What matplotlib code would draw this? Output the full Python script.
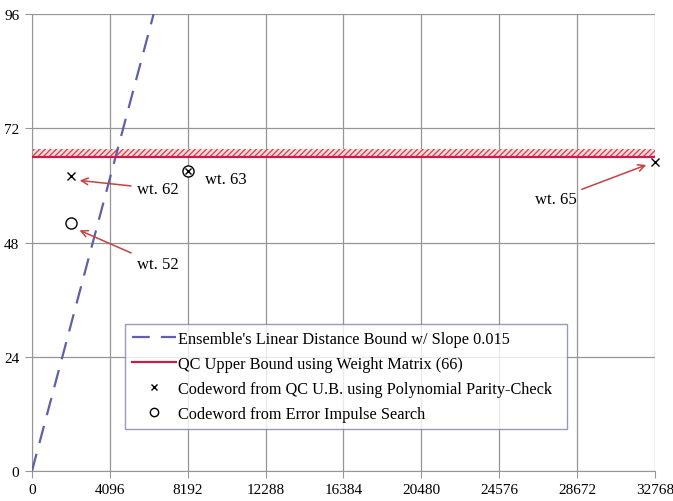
import matplotlib as mpl
mpl.use('Agg')
import matplotlib.pyplot as plt

plt.rcParams['font.family'] = ['Liberation Serif', 'DejaVu Serif']

# data
x_ticks = [0, 4096, 8192, 12288, 16384, 20480, 24576, 28672, 32768]
y_ticks = [0, 24, 48, 72, 96]
slope = 0.015
bound_x = [0, 6400]
qc_bound = 66
qc_band_top = 67.7
xcw_x = [2048, 32768]        # codewords from polynomial parity-check
xcw_y = [62, 65]
ocw_x = [2048]               # codeword from error impulse search
ocw_y = [52]
both_x = [8192]
both_y = [63]

fig = plt.figure(figsize=(6.73, 5.02), dpi=100)
ax = fig.add_axes([0.0475, 0.0598, 0.9255, 0.9102])

ax.set_xlim(0, 32768)
ax.set_ylim(0, 96)
ax.set_xticks(x_ticks)
ax.set_yticks(y_ticks)
ax.grid(True, color='#969696', lw=0.9)
ax.set_axisbelow(True)
for s in ax.spines.values():
    s.set_color('#969696')
ax.spines['top'].set_visible(False)
ax.spines['right'].set_visible(False)
ax.tick_params(direction='out', length=5, color='#969696', labelsize=11, pad=4)

ax.fill_between([0, 32768], qc_bound, qc_band_top, facecolor='#fde0e4',
                edgecolor='#e8404c', hatch='//////', linewidth=0, zorder=2)

ax.plot(bound_x, [slope * v for v in bound_x], color='#6060a8', lw=1.6,
        dashes=(8, 5), label="Ensemble's Linear Distance Bound w/ Slope 0.015", zorder=3)
ax.plot([0, 32768], [qc_bound, qc_bound], color='#c0204a', lw=1.6,
        label='QC Upper Bound using Weight Matrix (66)', zorder=3)
ax.plot(xcw_x, xcw_y, 'x', color='black', ms=6, mew=1,
        label='Codeword from QC U.B. using Polynomial Parity-Check', zorder=4, clip_on=False)
ax.plot(ocw_x, ocw_y, 'o', mfc='white', mec='black', ms=8, mew=1,
        label='Codeword from Error Impulse Search', zorder=4)
ax.plot(both_x, both_y, 'o', mfc='white', mec='black', ms=8, mew=1, zorder=4)
ax.plot(both_x, both_y, 'x', color='black', ms=5, mew=1, zorder=5)

arrow = dict(arrowstyle='->', color='#c84040', lw=1.1)
ax.annotate('wt. 62', xy=(2367, 61.1), xytext=(5500, 59.3), fontsize=12,
            va='center', arrowprops=arrow)
ax.annotate('wt. 52', xy=(2367, 50.8), xytext=(5500, 43.4), fontsize=12,
            va='center', arrowprops=arrow)
ax.annotate('wt. 65', xy=(32452, 64.5), xytext=(28650, 57.1), fontsize=12,
            va='center', ha='right', arrowprops=arrow)
ax.text(9100, 61.3, 'wt. 63', fontsize=12, va='center')

leg = ax.legend(loc='lower left', bbox_to_anchor=(0.149, 0.092, 0.71, 0.234),
                mode='expand', fancybox=False, fontsize=11.7, handlelength=2.7,
                handletextpad=0.1, labelspacing=0.55, borderaxespad=0,
                borderpad=0.45, markerscale=0.75)
leg.get_frame().set_edgecolor('#8080b0')
leg.get_frame().set_linewidth(1.0)

fig.savefig('out.png', dpi=100)
